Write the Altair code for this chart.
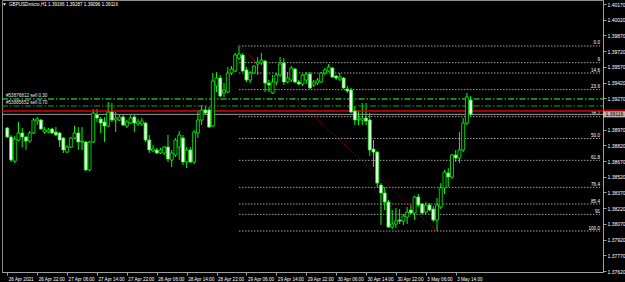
import altair as alt
import pandas as pd

# ---------------- data ----------------
bar_index = list(range(125))
open_ = [1.38986,1.38900,1.38670,1.38871,1.38938,1.38900,1.38861,1.38938,1.39052,1.39062,
         1.38947,1.38947,1.38976,1.38947,1.38938,1.38890,1.38756,1.38804,1.38890,1.38938,
         1.38852,1.38852,1.38585,1.38852,1.39110,1.39072,1.39043,1.39005,1.39138,1.39062,
         1.39062,1.39091,1.39005,1.39033,1.39091,1.39024,1.39024,1.39033,1.38871,1.38766,
         1.38776,1.38747,1.38747,1.38804,1.38680,1.38728,1.38804,1.38890,1.38661,1.38776,
         1.38661,1.38938,1.39062,1.39158,1.39158,1.39005,1.39387,1.39463,1.39320,1.39329,
         1.39511,1.39530,1.39654,1.39683,1.39540,1.39444,1.39511,1.39597,1.39606,1.39625,
         1.39415,1.39320,1.39425,1.39492,1.39606,1.39425,1.39444,1.39549,1.39425,1.39406,
         1.39444,1.39501,1.39396,1.39415,1.39425,1.39511,1.39530,1.39559,1.39482,1.39454,
         1.39463,1.39358,1.39349,1.39148,1.39062,1.39062,1.39081,1.39062,1.38785,1.38756,
         1.38441,1.38365,1.38279,1.38040,1.38069,1.38107,1.38097,1.38136,1.38202,1.38174,
         1.38327,1.38260,1.38183,1.38250,1.38212,1.38107,1.38231,1.38413,1.38556,1.38518,
         1.38728,1.38699,1.38776,1.39033,1.39253]
high = [1.38995,1.38919,1.38909,1.39043,1.38986,1.38909,1.38957,1.39081,1.39091,1.39072,
        1.38995,1.38986,1.38986,1.38995,1.38947,1.38900,1.38823,1.38900,1.39005,1.38995,
        1.38995,1.38861,1.38861,1.39167,1.39167,1.39091,1.39091,1.39234,1.39224,1.39138,
        1.39119,1.39110,1.39062,1.39110,1.39110,1.39072,1.39081,1.39043,1.38919,1.38823,
        1.38795,1.38795,1.38814,1.38919,1.38776,1.38890,1.38957,1.38919,1.38804,1.38804,
        1.38967,1.39158,1.39205,1.39196,1.39186,1.39511,1.39520,1.39492,1.39415,1.39568,
        1.39578,1.39702,1.39769,1.39702,1.39568,1.39530,1.39587,1.39664,1.39702,1.39635,
        1.39444,1.39492,1.39511,1.39664,1.39654,1.39520,1.39578,1.39559,1.39444,1.39501,
        1.39520,1.39520,1.39444,1.39463,1.39520,1.39559,1.39597,1.39568,1.39492,1.39511,
        1.39473,1.39387,1.39368,1.39196,1.39158,1.39224,1.39224,1.39129,1.38871,1.38766,
        1.38460,1.38422,1.38298,1.38202,1.38222,1.38212,1.38164,1.38231,1.38250,1.38336,
        1.38355,1.38269,1.38279,1.38269,1.38241,1.38317,1.38460,1.38585,1.38604,1.38737,
        1.38776,1.38947,1.39081,1.39320,1.39291]
low = [1.38890,1.38661,1.38651,1.38861,1.38804,1.38776,1.38842,1.38928,1.39014,1.38967,
       1.38928,1.38938,1.38928,1.38909,1.38804,1.38747,1.38747,1.38795,1.38881,1.38776,
       1.38776,1.38575,1.38575,1.38842,1.39043,1.38938,1.38852,1.38995,1.39043,1.38947,
       1.39052,1.39005,1.38986,1.39024,1.38947,1.39005,1.39005,1.38852,1.38747,1.38756,
       1.38737,1.38737,1.38728,1.38661,1.38613,1.38709,1.38680,1.38632,1.38604,1.38651,
       1.38642,1.38890,1.39014,1.39119,1.38986,1.38995,1.39329,1.39282,1.39282,1.39320,
       1.39492,1.39520,1.39635,1.39520,1.39425,1.39415,1.39501,1.39492,1.39587,1.39329,
       1.39329,1.39310,1.39396,1.39473,1.39396,1.39415,1.39425,1.39415,1.39396,1.39387,
       1.39406,1.39358,1.39377,1.39396,1.39415,1.39492,1.39520,1.39463,1.39444,1.39434,
       1.39358,1.39320,1.39129,1.39014,1.39014,1.39014,1.39014,1.38718,1.38613,1.38422,
       1.38059,1.38202,1.38031,1.38021,1.38031,1.38069,1.38059,1.38069,1.38164,1.38107,
       1.38231,1.38164,1.38164,1.38193,1.38088,1.38002,1.38212,1.38355,1.38422,1.38499,
       1.38661,1.38651,1.38756,1.39014,1.39100]
close = [1.38900,1.38680,1.38881,1.38938,1.38900,1.38861,1.38938,1.39062,1.39072,1.38976,
         1.38967,1.38967,1.38938,1.38919,1.38871,1.38776,1.38804,1.38890,1.38938,1.38852,
         1.38861,1.38585,1.38852,1.39129,1.39081,1.39033,1.39005,1.39138,1.39062,1.39081,
         1.39091,1.39014,1.39043,1.39081,1.39033,1.39043,1.39052,1.38871,1.38776,1.38785,
         1.38747,1.38776,1.38804,1.38690,1.38747,1.38871,1.38919,1.38661,1.38776,1.38661,
         1.38947,1.39062,1.39158,1.39129,1.38995,1.39434,1.39463,1.39291,1.39349,1.39511,
         1.39549,1.39683,1.39692,1.39530,1.39444,1.39511,1.39578,1.39616,1.39635,1.39415,
         1.39396,1.39425,1.39492,1.39597,1.39425,1.39463,1.39559,1.39425,1.39406,1.39492,
         1.39501,1.39368,1.39425,1.39444,1.39511,1.39540,1.39568,1.39473,1.39463,1.39473,
         1.39368,1.39339,1.39138,1.39062,1.39072,1.39081,1.39052,1.38776,1.38756,1.38460,
         1.38365,1.38279,1.38040,1.38069,1.38097,1.38097,1.38145,1.38183,1.38174,1.38327,
         1.38250,1.38174,1.38250,1.38202,1.38107,1.38250,1.38413,1.38565,1.38518,1.38728,
         1.38699,1.38776,1.39033,1.39282,1.39116]

tick_bars = [0, 8, 16, 24, 32, 40, 48, 56, 64, 72, 80, 88, 96, 104, 112, 120]
tick_labels = ["26 Apr 2021", "26 Apr 22:00", "27 Apr 06:00", "27 Apr 14:00", "27 Apr 22:00",
               "28 Apr 06:00", "28 Apr 14:00", "28 Apr 22:00", "29 Apr 06:00", "29 Apr 14:00",
               "29 Apr 22:00", "30 Apr 06:00", "30 Apr 14:00", "30 Apr 22:00", "3 May 06:00",
               "3 May 14:00"]

# 1.39120 sits behind the bid-price box, as in the terminal
price_ticks = [1.40170, 1.40020, 1.39870, 1.39720, 1.39570, 1.39420, 1.39270, 1.38970,
               1.38820, 1.38670, 1.38520, 1.38370, 1.38220, 1.38070, 1.37920, 1.37770, 1.37620]

fib_ratios = [0, 9, 14.6, 23.6, 38.2, 50, 61.8, 76.4, 85.4, 91, 100]
fib_labels = ["0.0", "9", "14.6", "23.6", "38.2", "50.0", "61.8", "76.4", "85.4", "91", "100.0"]
fib_high = 1.39769
fib_low = 1.38002
fib_start_bar = 62
fib_end_bar = 115

order_labels = ["#53876812 sell 0.30", "#53885652 sell 0.70"]
order_prices = [1.39263, 1.39196]
ask_price = 1.39148
bid_price = 1.39116
title_text = "GBPUSDmicro,H1  1.39166 1.39287 1.39096 1.39116"

# ---------------- tables ----------------
df = pd.DataFrame({"i": bar_index, "o": open_, "h": high, "l": low, "c": close})
fib = pd.DataFrame({"r": fib_ratios, "label": fib_labels})
fib["price"] = fib_high - fib["r"] / 100.0 * (fib_high - fib_low)
fib["start"] = fib_start_bar
trend = pd.DataFrame({"i": [fib_start_bar, fib_end_bar], "p": [fib_high, fib_low]})
orders = pd.DataFrame({"label": order_labels, "price": order_prices})
ask = pd.DataFrame({"p": [ask_price]})
bid = pd.DataFrame({"p": [bid_price], "t": [f"{bid_price:.5f}"]})
ttl = pd.DataFrame({"t": [title_text]})

FONT = "Liberation Sans"
GREEN = "#00ff00"
xs = alt.Scale(domain=[-0.08, 158.08], nice=False, zero=False)
ys = alt.Scale(domain=[1.376106, 1.402082], nice=False, zero=False)

label_expr = "[" + ",".join("'" + s + "'" for s in tick_labels) + "][round(datum.value/8)]"
x_axis = alt.Axis(values=tick_bars, labelExpr=label_expr, labelAlign="left", labelBaseline="top",
                  labelPadding=1, labelColor="white", labelFontSize=4.6, labelFont=FONT,
                  tickColor="#a0a0a0", tickSize=3, domainColor="#a0a0a0", grid=False,
                  title=None, labelOverlap=False, labelFlush=False, labelOffset=1)
y_axis = alt.Axis(orient="right", values=price_ticks, format=".5f", labelColor="white",
                  labelFontSize=5, labelFont=FONT, tickColor="#a0a0a0", tickSize=3,
                  domainColor="#a0a0a0", grid=False, title=None, labelOverlap=False,
                  labelFlush=False, labelPadding=1)


def X(field):
    return alt.X(field, scale=xs, axis=x_axis, title=None)


def Y(field):
    return alt.Y(field, scale=ys, axis=y_axis, title=None)


wicks = alt.Chart(df).mark_rule(color=GREEN, strokeWidth=1).encode(
    x=X("i:Q"), y=Y("l:Q"), y2="h:Q",
)
bull = alt.Chart(df).transform_filter("datum.c >= datum.o").mark_bar(
    width=3.0, fill="black", stroke=GREEN, strokeWidth=0.8
).encode(x=X("i:Q"), y=Y("o:Q"), y2="c:Q")
bear = alt.Chart(df).transform_filter("datum.c < datum.o").mark_bar(
    width=3.0, fill="white", stroke=GREEN, strokeWidth=0.8
).encode(x=X("i:Q"), y=Y("o:Q"), y2="c:Q")

fib_lines = alt.Chart(fib).mark_rule(color="#c8c8c8", strokeDash=[1.5, 1.5], strokeWidth=0.8).encode(
    x=X("start:Q"), x2=alt.value(598), y=Y("price:Q"),
)
fib_text = alt.Chart(fib).mark_text(align="right", baseline="bottom", dy=-0.5, fontSize=4.6,
                                    font=FONT, color="white").encode(
    x=alt.value(598), y=Y("price:Q"), text="label:N"
)
trend_line = alt.Chart(trend).mark_line(color="#c00000", strokeDash=[1.2, 1.8], strokeWidth=1).encode(
    x=X("i:Q"), y=Y("p:Q")
)
order_lines = alt.Chart(orders).mark_rule(strokeDash=[6, 2, 1.5, 2], strokeWidth=1).encode(
    x=alt.value(0), x2=alt.value(601), y=Y("price:Q"),
    color=alt.Color("label:N", scale=alt.Scale(domain=order_labels, range=["#3cff3c", "#22a022"]),
                    legend=None),
)
order_text = alt.Chart(orders).mark_text(align="left", baseline="bottom", dy=-0.5, fontSize=4.6,
                                         font=FONT, color="#e6e6e6").encode(
    x=alt.value(4), y=Y("price:Q"), text="label:N"
)
ask_line = alt.Chart(ask).mark_rule(color="#e00000", strokeWidth=1.3).encode(
    x=alt.value(0), x2=alt.value(601), y=Y("p:Q")
)
bid_line = alt.Chart(bid).mark_rule(color="#9a9a9a", strokeWidth=1).encode(
    x=alt.value(0), x2=alt.value(601), y=Y("p:Q")
)
ask_box = alt.Chart(ask).mark_tick(orient="horizontal", size=22, thickness=3.5, color="#e00000").encode(
    x=alt.value(612.5), y=Y("p:Q")
)
bid_box = alt.Chart(bid).mark_tick(orient="horizontal", size=22, thickness=6, color="white").encode(
    x=alt.value(612.5), y=Y("p:Q")
)
bid_text = alt.Chart(bid).mark_text(align="left", baseline="middle", fontSize=5, font=FONT,
                                    color="black").encode(
    x=alt.value(603.5), y=Y("p:Q"), text="t:N"
)
title_mark = alt.Chart(ttl).mark_text(align="left", baseline="middle", fontSize=4.6, font=FONT,
                                      color="white").encode(
    x=alt.value(7), y=alt.value(5), text="t:N"
)
tri = alt.Chart(ttl).mark_point(shape="triangle-down", filled=True, color="white", size=8,
                                opacity=1).encode(x=alt.value(2.5), y=alt.value(4.5))

chart = alt.layer(
    wicks, fib_lines, fib_text, trend_line, order_lines, order_text, ask_line, bid_line,
    bull, bear, ask_box, bid_box, bid_text, title_mark, tri
).properties(
    width=601, height=272,
    autosize=alt.AutoSizeParams(type="none"),
    padding={"left": 2, "top": 0, "right": 22, "bottom": 10},
    background="black",
).configure_view(stroke="#8c8c8c", strokeWidth=1)

chart.save("out.html", embed_options={"renderer": "svg", "actions": False})
